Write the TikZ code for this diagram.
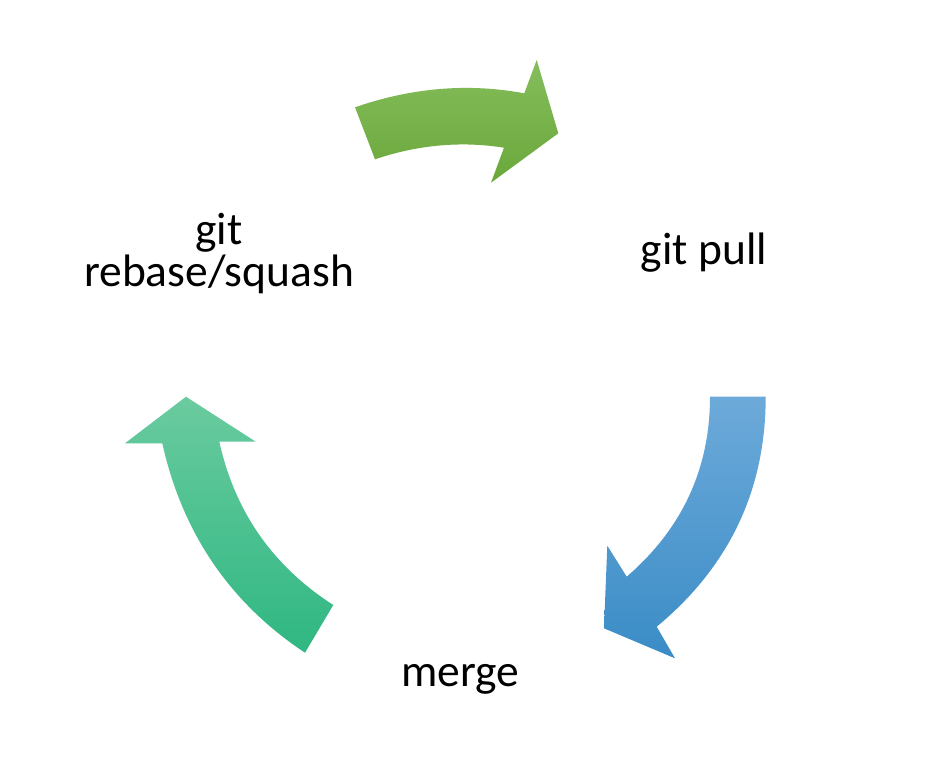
\documentclass[tikz,border=0pt]{standalone}
\usepackage{fontspec}
\setmainfont{Carlito}
\usetikzlibrary{calc}
\definecolor{gtop}{HTML}{85BD5B}
\definecolor{gbot}{HTML}{6AA83B}
\definecolor{btop}{HTML}{6DAADA}
\definecolor{bbot}{HTML}{3A8CC6}
\definecolor{ttop}{HTML}{6ACB9F}
\definecolor{tbot}{HTML}{2FB782}
\tikzset{
  lbl/.style={anchor=base, inner sep=0pt, font=\fontsize{45.5}{42}\selectfont, text=black},
  greenarrow/.style={top color=gtop, bottom color=gbot, draw=none},
  bluearrow/.style={top color=btop, bottom color=bbot, draw=none},
  tealarrow/.style={top color=ttop, bottom color=tbot, draw=none},
}
\begin{document}
\begin{tikzpicture}[x=1pt, y=-1pt]
\useasboundingbox[fill=white] (0,0) rectangle (935,766);
% green arrow (top)
\coordinate (T1) at (355,107.3);
\coordinate (TQo) at (440.35,77.7);
\coordinate (T2) at (524.3,93.3);
\coordinate (T3) at (536.7,60);
\coordinate (T4) at (558.3,133.3);
\coordinate (T5) at (491,182.7);
\coordinate (T6) at (504,147.7);
\coordinate (TQi) at (439.5,137.5);
\coordinate (T7) at (375,159.3);
\shade[greenarrow] (T1) .. controls ($(T1)!2/3!(TQo)$) and ($(T2)!2/3!(TQo)$) .. (T2)
  -- (T3) -- (T4) -- (T5) -- (T6)
  .. controls ($(T6)!2/3!(TQi)$) and ($(T7)!2/3!(TQi)$) .. (T7) -- cycle;
% blue arrow (right)
\coordinate (B1) at (765.7,396.7);
\coordinate (BQo) at (765.7,536.3);
\coordinate (B2) at (656.7,626.7);
\coordinate (B3) at (675,658.3);
\coordinate (B4) at (604,628.3);
\coordinate (B5) at (607.3,545.7);
\coordinate (B6) at (626.7,576.7);
\coordinate (BQi) at (710,504.7);
\coordinate (B7) at (710,396.7);
\shade[bluearrow] (B1) .. controls ($(B1)!2/3!(BQo)$) and ($(B2)!2/3!(BQo)$) .. (B2)
  -- (B3) -- (B4) -- (B5) -- (B6)
  .. controls ($(B6)!2/3!(BQi)$) and ($(B7)!2/3!(BQi)$) .. (B7) -- cycle;
% teal arrow (left)
\coordinate (G1) at (305,652.7);
\coordinate (GQo) at (192.35,578);
\coordinate (G2) at (162.3,443.3);
\coordinate (G3) at (125,443.3);
\coordinate (G4) at (186,396.7);
\coordinate (G5) at (255.7,441.7);
\coordinate (G6) at (219.3,441.7);
\coordinate (GQi) at (242.7,546.85);
\coordinate (G7) at (333.3,605);
\shade[tealarrow] (G1) .. controls ($(G1)!2/3!(GQo)$) and ($(G2)!2/3!(GQo)$) .. (G2)
  -- (G3) -- (G4) -- (G5) -- (G6)
  .. controls ($(G6)!2/3!(GQi)$) and ($(G7)!2/3!(GQi)$) .. (G7) -- cycle;
% labels
\node[lbl] (gitpull) at (704,264) {git pull};
\node[lbl] (merge) at (460.5,686) {merge};
\node[lbl] (git) at (219,244.3) {git};
\node[lbl] (rebase) at (219,286.7) {rebase/squash};
\end{tikzpicture}
\end{document}
